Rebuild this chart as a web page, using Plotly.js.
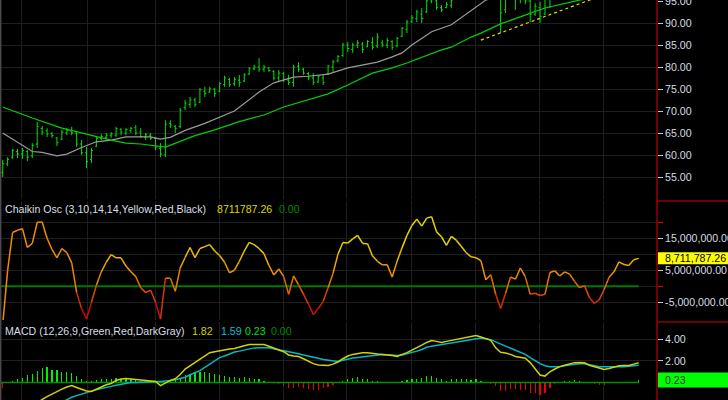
<!DOCTYPE html>
<html><head><meta charset="utf-8">
<script src="https://cdn.plot.ly/plotly-3.0.1.min.js"></script>
<style>html,body{margin:0;padding:0;background:#000;}#chart{width:728px;height:400px;}</style>
</head><body><div id="chart"></div>
<script>
// ---------- DATA ----------
const open = [56.0,58.0,59.5,60.8,60.2,60.8,59.8,62.5,66.0,65.5, 64.8,63.9,63.6,65.0,65.5,65.0,62.5,60.5,59.0,62.0, 63.8,64.0,64.5,64.5,65.8,65.0,65.5,66.2,65.2,64.0, 64.5,63.8,61.5,60.0,67.2,66.5,66.5,70.8,71.5,72.5, 72.0,74.5,74.3,75.0,74.5,76.0,77.2,76.2,77.0,76.8, 78.4,79.6,80.0,79.5,79.8,79.0,77.5,78.5,77.0,76.5, 80.2,79.5,78.5,77.5,76.6,77.5,78.5,80.0,81.4,82.6, 85.0,84.0,85.0,85.2,84.6,85.5,84.8,85.5,85.0,85.8, 84.8,87.0,88.5,90.3,91.0,92.0,92.5,95.0,95.0,93.5, 93.5,94.0,95.8,97.0,98.0,97.5,99.0,100.0,99.0,98.0, 97.0,96.0,93.0,95.8,97.5,95.5,96.8,95.0,92.0,93.5, 92.0,95.5,96.5,97.5,96.8,98.0,99.0,98.5,98.0,98.8, 97.5,97.0,97.8,98.5,99.0,99.5,100.0,99.5,100.0,100.4];
const high = [58.9,59.5,61.4,61.4,61.6,61.1,62.7,67.5,66.6,66.1, 65.2,64.1,65.7,66.1,66.4,65.2,63.4,61.8,61.6,64.1, 64.8,65.0,65.2,66.4,66.1,66.1,66.4,66.8,66.1,65.0, 65.0,64.1,62.7,67.9,67.9,66.8,70.7,72.5,73.2,73.0, 75.2,75.5,75.5,75.2,76.6,78.0,77.5,77.7,78.2,78.6, 80.0,80.5,82.0,80.5,80.0,79.3,79.3,78.9,78.2,80.5, 81.1,79.8,78.9,78.6,78.2,78.2,80.5,81.6,82.7,85.5, 85.7,85.5,86.1,85.7,86.1,86.8,87.7,86.1,86.6,86.1, 86.8,89.1,90.7,91.8,93.0,93.4,95.5,96.0,95.5,94.1, 94.8,95.5,97.5,98.5,99.0,99.5,100.5,101.0,100.0,99.0, 98.0,97.5,96.0,98.0,98.0,97.5,97.5,96.5,94.5,94.8, 96.0,97.0,98.0,98.5,98.8,99.5,99.8,99.5,99.5,99.0, 98.5,98.5,99.0,99.5,100.0,100.5,100.8,100.5,101.0,101.5];
const low = [55.0,57.5,59.1,59.3,59.1,58.6,59.3,61.6,64.5,64.1, 63.9,62.0,63.4,64.5,64.5,61.8,60.0,57.0,58.2,61.8, 63.4,63.6,63.9,64.1,64.5,64.5,65.0,64.5,63.9,63.4, 63.4,61.1,59.5,59.5,66.1,65.0,66.1,70.2,70.7,70.9, 71.8,73.2,74.1,73.2,74.3,75.5,75.5,75.7,75.5,76.6, 78.2,79.3,78.9,78.9,78.9,77.0,76.6,76.6,75.9,75.5, 78.9,78.2,77.0,75.9,76.4,75.9,78.2,78.9,81.1,82.3, 83.4,83.2,84.3,83.2,84.5,83.9,84.3,84.5,84.3,83.9, 84.5,86.8,87.7,90.0,90.2,90.0,92.3,94.5,93.0,92.5, 93.4,93.4,95.6,96.5,97.0,97.2,98.0,98.5,97.5,96.5, 95.8,87.7,92.3,95.5,93.0,94.5,94.3,90.2,91.6,90.0, 91.8,93.4,95.6,96.0,96.5,97.5,97.8,97.5,97.6,97.0, 96.5,96.6,97.0,97.8,98.0,98.6,98.8,98.8,99.0,99.4];
const close = [58.0,59.0,61.0,60.2,61.0,59.5,62.2,66.5,65.2,64.8, 64.4,62.8,65.2,65.6,65.0,62.5,60.5,58.5,61.0,63.8, 64.2,64.5,64.8,66.0,65.2,65.8,66.0,65.0,64.2,64.6, 63.8,61.8,60.2,67.0,66.8,66.0,70.2,71.8,72.5,71.5, 74.8,74.0,75.0,74.0,76.2,77.5,76.0,77.2,76.5,78.2, 79.6,80.0,79.5,80.0,79.2,77.5,78.6,77.2,76.5,80.0, 79.5,78.6,77.5,76.5,77.8,76.5,80.2,81.2,82.4,85.0, 84.2,85.0,85.5,84.0,85.8,84.5,86.8,85.0,86.0,84.5, 86.5,88.8,90.2,91.2,92.5,91.0,95.0,95.5,93.5,93.0, 94.2,95.2,97.2,98.0,97.5,99.0,100.0,99.0,98.0,97.0, 96.2,92.3,95.5,97.5,95.8,96.8,95.0,92.0,93.8,91.5, 95.5,96.5,97.5,96.8,98.2,99.0,98.5,98.0,99.0,97.5, 97.0,98.0,98.6,99.2,99.6,100.2,99.5,100.0,100.6,101.0];

// moving averages (bar index, value)
const maFastIdx = [0,6,8,11,13,16,19,22,25,30,32,34,37,41,47,48,50,52,55,59,62,66,70,72,76,79,81,83,87,91,95,98,105,129];
const maFastVal = [65.0,60.8,60.6,59.8,60.2,61.7,63.0,63.4,64.1,64.1,63.6,64.0,65.6,67.2,70.0,70.9,72.5,74.3,76.4,77.7,77.9,78.4,79.8,80.2,81.1,82.3,83.2,85.0,88.0,89.6,92.8,95.2,98.0,100.0];
const maSlowIdx = [0,6,12,19,22,25,28,33,35,39,43,47,48,50,53,57,62,66,70,75,79,82,89,91,95,97,101,107,110,117,129];
const maSlowVal = [70.9,68.4,66.1,64.1,63.4,62.7,62.5,61.8,62.7,64.4,65.7,67.3,67.6,68.2,69.1,70.9,72.5,73.9,75.9,78.6,79.8,80.9,83.9,84.5,86.8,87.7,89.8,92.3,93.4,95.2,97.5];
const trendIdx = [97, 126];
const trendVal = [86.1, 98.1];

// Chaikin oscillator, millions
const chaikinM = [-12, 5, 16.8, 17.5, 18.0, 12.1, 13.4, 20.0, 20.1, 15.0,
 11.5, 8.9, 11.8, 10.5, 7.3, -2, -7, -10.3, -5, 0.3,
 4.5, 7.5, 9.9, 8.9, 8.9, 6.3, 4.5, 3.0, -0.5, -2.0,
 -1.2, -5, -10.3, 2.5, 2.5, -1.6, 5.7, 9, 12.1, 8.9,
 11.8, 12.4, 13.0, 11, 9.6, 7.5, 4.2, 5.0, 7.8, 11,
 13.7, 13.0, 11.8, 10.2, 6.5, 3.5, 5.4, 3.0, -2.5, 3.2,
 0.5, -2.5, -5.5, -8.9, -7, -4.8, -0.5, 4, 10, 13.7,
 13.5, 14.8, 15.9, 13.4, 13.3, 9.5, 7.8, 6.7, 6.7, 2.9,
 7.8, 12, 15.9, 19, 21, 18.8, 21.3, 21.7, 17, 15.5,
 12.8, 15.6, 14.4, 12.5, 10.5, 9.2, 8.9, 8.0, 2.0, 3.6,
 -2.5, -7, -2.2, 2.9, 2.2, 5.7, 3.0, -2.5, -2.2, -2.9,
 -2.5, 4.3, 4.8, 3.2, 4.5, 3.8, 1.5, -0.5, 0.2, -3.5,
 -5.4, -4.3, -1.0, 2.8, 4.5, 7.6, 6.8, 6.5, 8.3, 8.71178726];

const macd = [-4.1, -3.6, -3.35, -3.1, -2.9, -2.6, -2.3, -1.9, -1.55, -1.3,
 -1.05, -0.8, -0.6, -0.4, -0.28, -0.45, -0.62, -0.78, -0.82, -0.6,
 -0.4, -0.2, -0.08, 0.2, 0.33, 0.37, 0.33, 0.28, 0.25, 0.22,
 0.18, 0.1, -0.28, -0.05, 0.2, 0.35, 0.75, 1.25, 1.55, 1.85,
 2.15, 2.45, 2.76, 2.85, 2.95, 3.03, 3.1, 3.15, 3.3, 3.4,
 3.5, 3.5, 3.52, 3.5, 3.35, 3.15, 3.0, 2.85, 2.55, 2.45,
 2.4, 2.2, 2.0, 1.75, 1.63, 1.6, 1.57, 1.7, 1.9, 2.2,
 2.45, 2.6, 2.68, 2.74, 2.75, 2.67, 2.63, 2.6, 2.58, 2.5,
 2.4, 2.55, 2.76, 3.0, 3.2, 3.45, 3.7, 3.87, 3.8, 3.7,
 3.8, 3.88, 3.96, 4.03, 4.1, 4.2, 4.33, 4.2, 4.05, 3.9,
 3.2, 2.8, 2.72, 2.6, 2.4, 2.33, 2.25, 1.84, 1.3, 0.7,
 0.6, 1.0, 1.25, 1.47, 1.6, 1.75, 1.84, 1.85, 1.82, 1.6,
 1.45, 1.3, 1.2, 1.3, 1.4, 1.55, 1.57, 1.57, 1.7, 1.82];
const signal = [-3.6, -3.6, -3.55, -3.5, -3.4, -3.3, -3.15, -3.0, -2.8, -2.6,
 -2.3, -2.05, -1.8, -1.57, -1.35, -1.2, -1.05, -0.92, -0.8, -0.65,
 -0.55, -0.42, -0.35, -0.25, -0.15, -0.08, 0, 0.02, 0.05, 0.07,
 0.08, 0.09, 0.1, 0.13, 0.17, 0.25, 0.38, 0.5, 0.72, 0.9,
 1.1, 1.4, 1.7, 2.0, 2.3, 2.45, 2.65, 2.82, 2.9, 3.0,
 3.12, 3.2, 3.22, 3.22, 3.22, 3.12, 3.04, 2.95, 2.85, 2.76,
 2.66, 2.55, 2.47, 2.35, 2.24, 2.12, 2.05, 1.97, 1.95, 2.05,
 2.17, 2.26, 2.32, 2.38, 2.42, 2.48, 2.55, 2.58, 2.56, 2.52,
 2.49, 2.55, 2.65, 2.76, 2.9, 3.05, 3.25, 3.36, 3.45, 3.52,
 3.59, 3.65, 3.72, 3.8, 3.87, 3.93, 4.0, 4.1, 4.05, 3.96,
 3.75, 3.55, 3.35, 3.15, 2.98, 2.82, 2.6, 2.3, 2.0, 1.75,
 1.55, 1.47, 1.47, 1.47, 1.56, 1.66, 1.7, 1.74, 1.74, 1.65,
 1.55, 1.47, 1.46, 1.45, 1.46, 1.47, 1.47, 1.5, 1.55, 1.59];
const hist = [-0.5, 0.03, 0.18, 0.37, 0.46, 0.74, 0.83, 1.1, 1.3, 1.4,
 1.2, 1.2, 1.0, 1.0, 0.9, 0.65, 0.37, 0.18, 0.18, 0.28,
 0.3, 0.37, 0.37, 0.46, 0.37, 0.3, 0.37, 0.3, 0.18, 0.12,
 0.1, 0.03, -0.05, 0.05, 0.12, 0.3, 0.46, 0.74, 0.83, 1.0,
 1.0, 1.0, 0.9, 0.83, 0.74, 0.65, 0.5, 0.5, 0.44, 0.5,
 0.46, 0.37, 0.3, 0.18, 0.1, 0.06, -0.1, -0.3, -0.5, -0.5,
 -0.4, -0.5, -0.6, -0.7, -0.7, -0.5, -0.4, -0.2, -0.05, 0.18,
 0.3, 0.4, 0.5, 0.3, 0.3, 0.18, 0.18, 0.1, 0.05, 0.05,
 0.05, 0.15, 0.2, 0.3, 0.37, 0.45, 0.6, 0.65, 0.45, 0.3,
 0.18, 0.3, 0.3, 0.3, 0.3, 0.28, 0.3, 0.18, 0.02, -0.15,
 -0.3, -0.75, -0.75, -0.6, -0.6, -0.65, -0.65, -1.0, -1.0, -1.1,
 -1.0, -0.5, -0.15, 0.05, 0.15, 0.15, 0.2, 0.12, 0.1, 0.03,
 -0.1, -0.2, -0.2, -0.05, 0.05, 0.1, 0.1, 0.1, 0.1, 0.23];

const priceTicks = [55,60,65,70,75,80,85,90,95];
const chaikinTicks = [-5e6, 5e6, 15e6];
const chaikinMinorTicks = [0, 10e6, 20e6];
const macdTicks = [2, 4];
const zeroLevel = 0;

// ---------- BUILD ----------
const idx = open.map((_, i) => i);
const last = idx.length - 1;
const chaikin = chaikinM.map(v => v * 1e6);
const fmt2 = v => v.toFixed(2);
const fmtComma = v => v.toLocaleString('en-US', {minimumFractionDigits: 2, maximumFractionDigits: 2});

const W = 728, H = 400, plotW = 657;
const px = p => p / plotW;
const py = p => 1 - p / H;

const xRange = [-0.55, 132.72];
const gridX = [3.9, 17.1, 30.9, 43.9, 56.9, 69.8, 83, 96, 108.8, 121.8];
const GRID = '#1e1e1e';
const FONT = 'Liberation Sans, Arial, sans-serif';
const FS = 10.6;
const LABEL = '#d4dae4';

const priceRange = [50, 95.227];
const chaikinRange = [-10.57e6, 26.66e6];
const macdRange = [-1.604, 5.585];
const priceDomain = [py(199), 1];
const chaikinDomain = [py(320), py(201)];
const macdDomain = [0, py(322)];

// Chaikin heat colour
const heatStops = [[-9, [200, 0, 0]], [-3, [215, 65, 0]], [3, [238, 135, 0]], [9, [240, 180, 0]], [15, [225, 215, 0]]];
function heat(vM, i) {
  if (i < 14) return 'rgb(240,140,0)';
  if (vM <= heatStops[0][0]) return 'rgb(' + heatStops[0][1].join(',') + ')';
  for (let k = 1; k < heatStops.length; k++) {
    if (vM <= heatStops[k][0]) {
      const [v0, c0] = heatStops[k - 1], [v1, c1] = heatStops[k];
      const t = (vM - v0) / (v1 - v0);
      return 'rgb(' + c0.map((c, j) => Math.round(c + (c1[j] - c) * t)).join(',') + ')';
    }
  }
  return 'rgb(' + heatStops[heatStops.length - 1][1].join(',') + ')';
}

const traces = [];
// price
traces.push({type: 'ohlc', x: idx, open: open, high: high, low: low, close: close,
  xaxis: 'x', yaxis: 'y', tickwidth: 0.3, hoverinfo: 'skip',
  increasing: {line: {color: '#00e000', width: 1}}, decreasing: {line: {color: '#00e000', width: 1}}});
traces.push({type: 'scatter', mode: 'lines', x: maFastIdx, y: maFastVal, xaxis: 'x', yaxis: 'y',
  line: {color: '#9a9a9a', width: 1.2}, hoverinfo: 'skip'});
traces.push({type: 'scatter', mode: 'lines', x: maSlowIdx, y: maSlowVal, xaxis: 'x', yaxis: 'y',
  line: {color: '#00d000', width: 1.2}, hoverinfo: 'skip'});
traces.push({type: 'scatter', mode: 'lines', x: trendIdx, y: trendVal, xaxis: 'x', yaxis: 'y',
  line: {color: '#e0e000', width: 1.2, dash: '3px,3px'}, hoverinfo: 'skip'});

// chaikin
traces.push({type: 'scatter', mode: 'lines', x: [xRange[0], idx[last]], y: [zeroLevel, zeroLevel], xaxis: 'x2', yaxis: 'y2',
  line: {color: '#007800', width: 2}, hoverinfo: 'skip'});
for (let i = 0; i < last; i++) {
  const mid = (chaikinM[i] + chaikinM[i + 1]) / 2;
  traces.push({type: 'scatter', mode: 'lines', x: [idx[i], idx[i + 1]], y: [chaikin[i], chaikin[i + 1]],
    xaxis: 'x2', yaxis: 'y2', line: {color: heat(mid, i), width: 1.5}, hoverinfo: 'skip'});
}

// macd
traces.push({type: 'scatter', mode: 'lines', x: [xRange[0], idx[last]], y: [zeroLevel, zeroLevel], xaxis: 'x3', yaxis: 'y3',
  line: {color: '#009000', width: 1.5}, hoverinfo: 'skip'});
traces.push({type: 'bar', x: idx, y: hist, xaxis: 'x3', yaxis: 'y3', width: 0.25,
  marker: {color: hist.map(v => v >= 0 ? '#00f000' : '#f00000'), line: {width: 0}}, hoverinfo: 'skip'});
traces.push({type: 'scatter', mode: 'lines', x: idx, y: signal, xaxis: 'x3', yaxis: 'y3',
  line: {color: '#00b8c8', width: 1.5}, hoverinfo: 'skip'});
traces.push({type: 'scatter', mode: 'lines', x: idx, y: macd, xaxis: 'x3', yaxis: 'y3',
  line: {color: '#d2d200', width: 1.5}, hoverinfo: 'skip'});

const xAx = {range: xRange, showticklabels: false, tickmode: 'array', tickvals: gridX, showgrid: true,
  gridcolor: GRID, gridwidth: 1, zeroline: false, showline: false, ticks: '', fixedrange: true};
const yAx = {side: 'right', showline: false, ticks: 'outside', ticklen: 5, tickwidth: 1, tickcolor: '#c8c8c8',
  showgrid: true, gridcolor: GRID, gridwidth: 1, zeroline: false, fixedrange: true, ticklabeloverflow: 'allow',
  tickfont: {family: FONT, size: FS, color: LABEL}, tickmode: 'array'};

const ann = (x, y, text, color, extra) => Object.assign({xref: 'paper', yref: 'paper', x: x, y: y, xanchor: 'left', yanchor: 'middle',
  text: text, showarrow: false, font: {family: FONT, size: FS, color: color}}, extra || {});

const yPaper = (v, range, dom) => dom[0] + (v - range[0]) / (range[1] - range[0]) * (dom[1] - dom[0]);
const chY = yPaper(chaikin[last], chaikinRange, chaikinDomain);
const mdY = yPaper(hist[last], macdRange, macdDomain);
const xR = (W - plotW) / plotW + 1;

const layout = {
  width: W, height: H, margin: {l: 0, r: W - plotW, t: 0, b: 0},
  paper_bgcolor: '#000', plot_bgcolor: '#000', showlegend: false, bargap: 0,
  font: {family: FONT, size: FS, color: LABEL},
  xaxis: Object.assign({}, xAx, {anchor: 'y', rangeslider: {visible: false}}),
  xaxis2: Object.assign({}, xAx, {anchor: 'y2'}),
  xaxis3: Object.assign({}, xAx, {anchor: 'y3'}),
  yaxis: Object.assign({}, yAx, {domain: priceDomain, range: priceRange, anchor: 'x',
    tickvals: priceTicks, ticktext: priceTicks.map(fmt2)}),
  yaxis2: Object.assign({}, yAx, {domain: chaikinDomain, range: chaikinRange, anchor: 'x2',
    tickvals: chaikinTicks, ticktext: chaikinTicks.map(fmtComma),
    minor: {tickmode: 'array', tickvals: chaikinMinorTicks, ticks: 'outside', ticklen: 5, tickcolor: '#e00000',
      showgrid: true, gridcolor: GRID}}),
  yaxis3: Object.assign({}, yAx, {domain: macdDomain, range: macdRange, anchor: 'x3',
    tickvals: macdTicks, ticktext: macdTicks.map(fmt2)}),
  shapes: [
    {type: 'line', xref: 'paper', yref: 'paper', x0: 1, x1: 1, y0: 0, y1: 1, line: {color: '#e00000', width: 1}},
    {type: 'line', xref: 'paper', yref: 'paper', x0: 1, x1: xR, y0: py(201), y1: py(201), line: {color: '#e00000', width: 1}},
    {type: 'line', xref: 'paper', yref: 'paper', x0: 1, x1: xR, y0: py(322), y1: py(322), line: {color: '#e00000', width: 1}},
    {type: 'line', xref: 'paper', yref: 'paper', x0: 0.001, x1: 0.001, y0: 0, y1: 1, line: {color: '#4a4a4a', width: 1.5}},
    {type: 'rect', xref: 'paper', yref: 'paper', x0: 1.0015, x1: xR, y0: chY - 6 / H, y1: chY + 6 / H,
      fillcolor: '#ffff00', line: {width: 0}, layer: 'above'},
    {type: 'rect', xref: 'paper', yref: 'paper', x0: 1.0015, x1: xR, y0: mdY - 7.5 / H, y1: mdY + 7.5 / H,
      fillcolor: '#00ff00', line: {width: 0}, layer: 'above'}
  ],
  annotations: [
    ann(px(3), py(209), 'Chaikin Osc (3,10,14,14,Yellow,Red,Black)', '#d8dce4'),
    ann(px(215), py(209), fmt2(chaikin[last]), '#d8d800'),
    ann(px(277), py(209), fmt2(zeroLevel), '#008800'),
    ann(px(3), py(331), 'MACD (12,26,9,Green,Red,DarkGray)', '#d8dce4'),
    ann(px(190), py(331), fmt2(macd[last]), '#d0d000'),
    ann(px(219), py(331), fmt2(signal[last]), '#00c0d0'),
    ann(px(243), py(331), fmt2(hist[last]), '#00e000'),
    ann(px(269), py(331), fmt2(zeroLevel), '#008800'),
    ann(px(663), chY, fmtComma(chaikin[last]), '#000000'),
    ann(px(663), mdY, fmt2(hist[last]), '#303030')
  ]
};

Plotly.newPlot('chart', traces, layout, {staticPlot: true, displayModeBar: false});
</script>
</body></html>
